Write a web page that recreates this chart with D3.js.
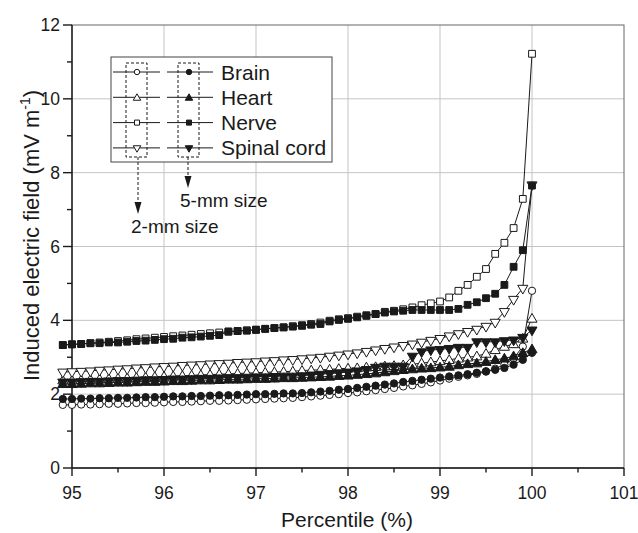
<!DOCTYPE html>
<html>
<head>
<meta charset="utf-8">
<script src="https://cdn.jsdelivr.net/npm/d3@7"></script>
<style>
  body { margin: 0; background: #fff; }
  svg { display: block; font-family: Arial, "Liberation Sans", Helvetica, sans-serif; }
</style>
</head>
<body>
<div id="chart"></div>
<script>
// Percentile positions of every point (%)
const percentile = [94.9, 95.0, 95.1, 95.2, 95.3, 95.4, 95.5, 95.6, 95.7, 95.8, 95.9,
  96.0, 96.1, 96.2, 96.3, 96.4, 96.5, 96.6, 96.7, 96.8, 96.9,
  97.0, 97.1, 97.2, 97.3, 97.4, 97.5, 97.6, 97.7, 97.8, 97.9,
  98.0, 98.1, 98.2, 98.3, 98.4, 98.5, 98.6, 98.7, 98.8, 98.9,
  99.0, 99.1, 99.2, 99.3, 99.4, 99.5, 99.6, 99.7, 99.8, 99.9, 100.0];

// Induced electric field (mV/m), 2-mm and 5-mm voxel size
const brain2mm = [1.71, 1.71, 1.72, 1.72, 1.73, 1.74, 1.74, 1.75, 1.76, 1.76, 1.77,
  1.78, 1.79, 1.79, 1.80, 1.81, 1.82, 1.82, 1.83, 1.84, 1.85,
  1.86, 1.87, 1.88, 1.89, 1.90, 1.92, 1.94, 1.96, 1.98, 2.00,
  2.03, 2.05, 2.08, 2.11, 2.14, 2.17, 2.21, 2.24, 2.28, 2.32,
  2.37, 2.42, 2.47, 2.51, 2.55, 2.61, 2.69, 2.80, 2.97, 3.29, 4.80];
const brain5mm = [1.87, 1.87, 1.88, 1.88, 1.89, 1.89, 1.90, 1.90, 1.91, 1.92, 1.92,
  1.93, 1.94, 1.94, 1.95, 1.95, 1.96, 1.97, 1.97, 1.98, 1.99,
  2.00, 2.00, 2.01, 2.02, 2.02, 2.03, 2.05, 2.07, 2.09, 2.12,
  2.14, 2.17, 2.20, 2.23, 2.26, 2.29, 2.33, 2.36, 2.39, 2.42,
  2.45, 2.48, 2.51, 2.54, 2.58, 2.62, 2.66, 2.71, 2.80, 2.93, 3.12];
const heart2mm = [2.38, 2.38, 2.39, 2.40, 2.41, 2.42, 2.43, 2.44, 2.45, 2.46, 2.47,
  2.48, 2.49, 2.50, 2.51, 2.52, 2.53, 2.54, 2.55, 2.56, 2.57,
  2.58, 2.59, 2.60, 2.61, 2.62, 2.64, 2.65, 2.66, 2.67, 2.69,
  2.70, 2.71, 2.73, 2.74, 2.76, 2.77, 2.79, 2.81, 2.84, 2.87,
  2.90, 2.93, 2.97, 3.00, 3.03, 3.10, 3.20, 3.29, 3.36, 3.51, 4.05];
const heart5mm = [2.28, 2.28, 2.29, 2.30, 2.30, 2.31, 2.32, 2.32, 2.33, 2.34, 2.34,
  2.35, 2.36, 2.36, 2.37, 2.38, 2.38, 2.39, 2.40, 2.40, 2.41,
  2.42, 2.42, 2.43, 2.44, 2.44, 2.45, 2.46, 2.47, 2.48, 2.50,
  2.51, 2.53, 2.55, 2.57, 2.60, 2.63, 2.66, 2.68, 2.70, 2.71,
  2.73, 2.75, 2.79, 2.82, 2.84, 2.88, 2.93, 2.97, 3.03, 3.12, 3.22];
const nerve2mm = [3.33, 3.35, 3.36, 3.38, 3.40, 3.42, 3.44, 3.46, 3.49, 3.51, 3.53,
  3.55, 3.57, 3.59, 3.61, 3.63, 3.65, 3.67, 3.69, 3.71, 3.73,
  3.75, 3.77, 3.79, 3.81, 3.84, 3.87, 3.90, 3.94, 3.99, 4.03,
  4.06, 4.10, 4.14, 4.17, 4.23, 4.26, 4.30, 4.35, 4.41, 4.46,
  4.51, 4.62, 4.80, 4.96, 5.18, 5.39, 5.80, 6.10, 6.50, 7.29, 11.22];
const nerve5mm = [3.33, 3.35, 3.36, 3.38, 3.38, 3.40, 3.40, 3.42, 3.44, 3.45, 3.47,
  3.49, 3.50, 3.53, 3.54, 3.56, 3.58, 3.60, 3.70, 3.71, 3.72,
  3.74, 3.77, 3.79, 3.81, 3.83, 3.85, 3.88, 3.90, 3.97, 4.01,
  4.04, 4.08, 4.12, 4.17, 4.21, 4.24, 4.26, 4.28, 4.28, 4.28,
  4.28, 4.28, 4.31, 4.42, 4.49, 4.60, 4.72, 4.96, 5.45, 5.90, 7.65];
const spinal2mm = [2.60, 2.61, 2.62, 2.63, 2.65, 2.66, 2.68, 2.69, 2.71, 2.72, 2.74,
  2.75, 2.76, 2.78, 2.79, 2.80, 2.82, 2.83, 2.84, 2.86, 2.87,
  2.88, 2.90, 2.91, 2.93, 2.94, 2.96, 2.98, 3.00, 3.03, 3.06,
  3.09, 3.12, 3.16, 3.20, 3.24, 3.28, 3.32, 3.36, 3.41, 3.46,
  3.51, 3.58, 3.64, 3.70, 3.76, 3.84, 3.95, 4.24, 4.57, 4.87, 7.67];
const spinal5mm = [2.33, 2.33, 2.34, 2.35, 2.35, 2.36, 2.37, 2.37, 2.38, 2.39, 2.39,
  2.40, 2.41, 2.41, 2.42, 2.43, 2.43, 2.44, 2.45, 2.45, 2.46,
  2.47, 2.47, 2.48, 2.49, 2.49, 2.50, 2.52, 2.54, 2.56, 2.58,
  2.60, 2.63, 2.67, 2.73, 2.76, 2.76, 2.76, 3.03, 3.15, 3.20,
  3.21, 3.24, 3.27, 3.27, 3.42, 3.42, 3.42, 3.45, 3.47, 3.54, 3.74];

const tissues = ["Brain", "Heart", "Nerve", "Spinal cord"];
const xTicks = [95, 96, 97, 98, 99, 100, 101];
const xMinorTicks = [95.5, 96.5, 97.5, 98.5, 99.5, 100.5];
const yTicks = [0, 2, 4, 6, 8, 10, 12];
const yMinorTicks = [1, 3, 5, 7, 9, 11];

// Series table: marker shape per tissue, open = 2 mm, filled = 5 mm
const series = [
  { name: "Brain", size: "2mm", shape: "circle", values: brain2mm },
  { name: "Heart", size: "2mm", shape: "up", values: heart2mm },
  { name: "Nerve", size: "2mm", shape: "square", values: nerve2mm },
  { name: "Spinal cord", size: "2mm", shape: "down", values: spinal2mm },
  { name: "Brain", size: "5mm", shape: "circle", values: brain5mm },
  { name: "Heart", size: "5mm", shape: "up", values: heart5mm },
  { name: "Nerve", size: "5mm", shape: "square", values: nerve5mm },
  { name: "Spinal cord", size: "5mm", shape: "down", values: spinal5mm }
];

const width = 638, height = 533;
const margin = { top: 25, right: 14, bottom: 65, left: 72 };
const ink = "#1a1a1a";

const svg = d3.select("#chart").append("svg")
    .attr("width", width)
    .attr("height", height);

const x = d3.scaleLinear().domain([95, 101]).range([margin.left, width - margin.right]);
const y = d3.scaleLinear().domain([0, 12]).range([height - margin.bottom, margin.top]);

// Gridlines
const grid = svg.append("g").attr("stroke", "#c4c4c4").attr("stroke-width", 1);
grid.selectAll(".gx").data(xTicks.slice(1, -1)).enter().append("line")
    .attr("x1", d => x(d)).attr("x2", d => x(d))
    .attr("y1", y(0)).attr("y2", y(12));
grid.selectAll(".gy").data(yTicks.slice(1, -1)).enter().append("line")
    .attr("x1", x(95)).attr("x2", x(101))
    .attr("y1", d => y(d)).attr("y2", d => y(d));

// Frame (top / right)
svg.append("rect")
    .attr("x", x(95)).attr("y", y(12))
    .attr("width", x(101) - x(95)).attr("height", y(0) - y(12))
    .attr("fill", "none").attr("stroke", "#666").attr("stroke-width", 1);

// Axes: lines, outward ticks and labels
const axes = svg.append("g").attr("stroke", ink).attr("stroke-width", 1.4);
axes.append("line").attr("x1", x(95)).attr("x2", x(101)).attr("y1", y(0)).attr("y2", y(0));
axes.append("line").attr("x1", x(95)).attr("x2", x(95)).attr("y1", y(0)).attr("y2", y(12));

axes.selectAll(".xt").data(xTicks).enter().append("line")
    .attr("x1", d => x(d)).attr("x2", d => x(d))
    .attr("y1", y(0)).attr("y2", y(0) + 8);
axes.selectAll(".xm").data(xMinorTicks).enter().append("line")
    .attr("x1", d => x(d)).attr("x2", d => x(d))
    .attr("y1", y(0)).attr("y2", y(0) + 4.5);
axes.selectAll(".yt").data(yTicks).enter().append("line")
    .attr("x1", x(95) - 9).attr("x2", x(95))
    .attr("y1", d => y(d)).attr("y2", d => y(d));
axes.selectAll(".ym").data(yMinorTicks).enter().append("line")
    .attr("x1", x(95) - 5).attr("x2", x(95))
    .attr("y1", d => y(d)).attr("y2", d => y(d));

svg.append("g").selectAll("text").data(xTicks).enter().append("text")
    .attr("x", d => x(d))
    .attr("y", y(0) + 31)
    .attr("text-anchor", "middle")
    .attr("font-size", "17.5px")
    .attr("fill", ink)
    .text(d => d);
svg.append("g").selectAll("text").data(yTicks).enter().append("text")
    .attr("x", x(95) - 12)
    .attr("y", d => y(d) + 6)
    .attr("text-anchor", "end")
    .attr("font-size", "17.5px")
    .attr("fill", ink)
    .text(d => d);

// Axis titles
svg.append("text")
    .attr("x", (x(95) + x(101)) / 2 - 1)
    .attr("y", 527)
    .attr("text-anchor", "middle")
    .attr("font-size", "21px")
    .attr("fill", ink)
    .text("Percentile (%)");

const yTitle = svg.append("text")
    .attr("transform", `translate(39,${(y(0) + y(12)) / 2 - 11}) rotate(-90)`)
    .attr("text-anchor", "middle")
    .attr("font-size", "22px")
    .attr("fill", ink);
yTitle.append("tspan").text("Induced electric field (mV m");
yTitle.append("tspan").attr("font-size", "14px").attr("dy", -9).text("-1");
yTitle.append("tspan").attr("dy", 9).text(")");

// Marker shapes
function symbolPath(shape, scale) {
    const s = scale || 1;
    if (shape === "circle") return d3.symbol(d3.symbolCircle, 42 * s)();
    if (shape === "square") return d3.symbol(d3.symbolSquare, 46 * s)();
    return d3.symbol(d3.symbolTriangle, 44 * s)();
}

function drawMarker(g, shape, filled, scale) {
    g.append("path")
        .attr("d", symbolPath(shape, scale))
        .attr("transform", shape === "down" ? "rotate(180)" : shape === "up" ? "translate(0,0.8)" : null)
        .attr("fill", filled ? ink : "#fff")
        .attr("stroke", ink)
        .attr("stroke-width", 1);
}

// Lines and markers
const line = d3.line().x((d, i) => x(percentile[i])).y(d => y(d));

const plot = svg.append("g");
series.forEach(s => {
    plot.append("path")
        .datum(s.values)
        .attr("fill", "none")
        .attr("stroke", ink)
        .attr("stroke-width", 1)
        .attr("d", line);
});
series.forEach(s => {
    const filled = s.size === "5mm";
    plot.append("g").selectAll("g")
        .data(s.values)
        .enter()
        .append("g")
        .attr("transform", (d, i) => `translate(${x(percentile[i])},${y(d)})`)
        .each(function() { drawMarker(d3.select(this), s.shape, filled); });
});

// Legend
const legend = svg.append("g");
legend.append("rect")
    .attr("x", 111).attr("y", 57).attr("width", 221).attr("height", 105)
    .attr("fill", "#fff").attr("stroke", "#444").attr("stroke-width", 1);

const shapes = ["circle", "up", "square", "down"];
tissues.forEach((name, i) => {
    const ry = 72 + i * 25.3;
    const row = legend.append("g").attr("transform", `translate(0,${ry})`);
    row.append("line").attr("x1", 113).attr("x2", 160).attr("stroke", ink).attr("stroke-width", 1);
    row.append("line").attr("x1", 167).attr("x2", 213).attr("stroke", ink).attr("stroke-width", 1);
    drawMarker(row.append("g").attr("transform", "translate(137,0)"), shapes[i], false, 0.55);
    drawMarker(row.append("g").attr("transform", "translate(189,0)"), shapes[i], true, 0.55);
    row.append("text")
        .attr("x", 221).attr("y", 7.5)
        .attr("font-size", "21px")
        .attr("fill", ink)
        .text(name);
});

// Dashed groupings and arrows
const dash = legend.append("g").attr("fill", "none").attr("stroke", ink)
    .attr("stroke-width", 1).attr("stroke-dasharray", "3,2");
dash.append("rect").attr("x", 126).attr("y", 63).attr("width", 21).attr("height", 94);
dash.append("rect").attr("x", 178).attr("y", 63).attr("width", 21).attr("height", 94);
dash.append("line").attr("x1", 138).attr("x2", 138).attr("y1", 157).attr("y2", 204);
dash.append("line").attr("x1", 188).attr("x2", 188).attr("y1", 157).attr("y2", 178);

legend.append("path").attr("d", "M134.5,202 L141.5,202 L138,214 Z").attr("fill", ink);
legend.append("path").attr("d", "M184.5,176 L191.5,176 L188,188 Z").attr("fill", ink);

legend.append("text").attr("x", 180).attr("y", 207).attr("font-size", "19px")
    .attr("fill", ink).text("5-mm size");
legend.append("text").attr("x", 131).attr("y", 233).attr("font-size", "19px")
    .attr("fill", ink).text("2-mm size");
</script>
</body>
</html>
